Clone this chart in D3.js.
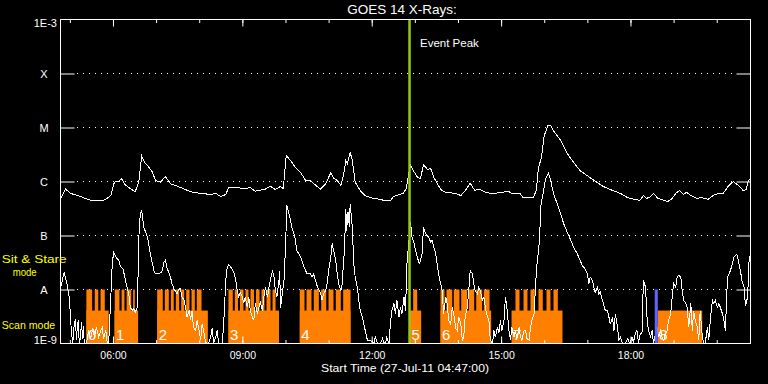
<!DOCTYPE html>
<html>
<head>
<meta charset="utf-8">
<script src="https://cdn.jsdelivr.net/npm/d3@7"></script>
<style>
	body { margin: 0; background: black; }
	svg { display: block; }
	text { font-family: 'Liberation Sans', Arial, sans-serif; }
</style>
</head>
<body>
<svg id="svg"></svg>
<script>

// minutes after 27-Jul-11 04:47:00, log10 flux (W/m^2)
const xrsLong = [
	[0,-6.32],[7,-6.14],[14,-6.22],[28,-6.28],[42,-6.35],[56,-6.36],[63,-6.33],[70,-6.26],[75,-6.01],[81,-6.00],
	[85,-5.95],[90,-6.06],[97,-6.13],[104,-6.19],[109,-6.00],[113,-5.53],[117,-5.65],[122,-5.72],[128,-5.83],[132,-5.98],
	[139,-6.01],[146,-5.91],[153,-6.04],[167,-6.11],[181,-6.19],[195,-6.22],[209,-6.24],[216,-6.22],[223,-6.28],[230,-6.24],
	[234,-6.11],[243,-6.11],[257,-6.13],[264,-6.11],[271,-6.18],[285,-6.14],[292,-6.09],[299,-6.15],[306,-6.09],[310,-6.13],
	[314,-5.52],[320,-5.61],[327,-5.74],[334,-5.83],[341,-5.98],[348,-5.99],[355,-6.07],[362,-6.14],[369,-6.04],[376,-5.84],
	[380,-5.94],[385,-5.98],[390,-6.07],[394,-5.87],[397,-5.61],[399,-5.67],[403,-5.46],[406,-5.61],[410,-6.01],[417,-6.17],
	[424,-6.26],[431,-6.30],[445,-6.33],[452,-6.36],[459,-6.36],[463,-6.28],[470,-6.25],[477,-6.22],[481,-6.13],[484,-5.89],
	[487,-5.70],[491,-5.80],[497,-5.93],[501,-5.94],[505,-5.69],[511,-5.78],[515,-5.76],[520,-5.94],[529,-6.15],[536,-6.20],
	[550,-6.22],[557,-6.26],[563,-6.17],[570,-6.03],[576,-6.16],[584,-6.15],[591,-6.20],[598,-6.22],[612,-6.21],[623,-6.18],
	[629,-6.23],[640,-6.23],[643,-6.29],[658,-6.29],[662,-6.17],[665,-5.74],[669,-5.57],[673,-5.15],[678,-4.97],[682,-4.96],
	[686,-5.06],[696,-5.24],[705,-5.48],[714,-5.65],[723,-5.80],[737,-5.93],[747,-6.02],[755,-6.09],[765,-6.15],[779,-6.22],
	[789,-6.30],[799,-6.33],[806,-6.35],[811,-6.26],[815,-6.31],[819,-6.30],[825,-6.22],[831,-6.31],[838,-6.34],[845,-6.37],
	[850,-6.33],[856,-6.22],[861,-6.17],[867,-6.24],[871,-6.20],[877,-6.26],[885,-6.31],[893,-6.30],[901,-6.33],[908,-6.26],
	[915,-6.22],[922,-6.22],[929,-6.09],[936,-6.00],[943,-6.07],[950,-6.17],[954,-6.15],[957,-5.98],[960,-5.96]
]

const xrsShort = [
	[0,-7.98],[5,-7.68],[9,-7.89],[12,-8.14],[14,-8.51],[15,-8.76],[17,-9.00],[19,-8.67],[21,-8.54],[22,-8.94],
	[24,-8.61],[25,-8.57],[26,-9.00],[28,-8.88],[29,-8.61],[31,-8.91],[32,-8.67],[33,-9.00],[36,-9.00],[39,-8.76],
	[42,-8.91],[45,-8.72],[47,-8.88],[50,-8.70],[53,-8.88],[56,-8.76],[58,-8.70],[60,-8.91],[63,-8.76],[65,-8.98],
	[67,-9.00],[70,-8.14],[72,-7.52],[74,-7.31],[77,-7.40],[81,-7.46],[83,-7.56],[87,-7.62],[89,-7.74],[92,-7.93],
	[95,-8.08],[97,-8.33],[100,-8.39],[102,-8.35],[104,-8.42],[107,-8.33],[109,-7.03],[111,-6.60],[113,-6.54],[116,-6.85],
	[121,-7.03],[125,-7.34],[130,-7.65],[132,-7.71],[137,-7.70],[141,-7.68],[144,-7.49],[146,-7.46],[148,-7.59],[153,-7.77],
	[155,-7.89],[158,-7.99],[162,-8.08],[165,-7.98],[167,-7.99],[169,-8.14],[172,-8.20],[174,-8.33],[176,-8.51],[179,-8.39],
	[181,-8.57],[183,-8.39],[185,-8.70],[188,-8.76],[190,-8.57],[192,-8.70],[195,-8.94],[197,-8.64],[199,-8.76],[202,-8.98],
	[206,-9.00],[209,-8.88],[211,-8.72],[213,-9.00],[216,-8.88],[218,-8.76],[220,-9.00],[225,-9.00],[227,-8.64],[230,-7.83],
	[232,-7.59],[234,-7.54],[237,-7.59],[241,-7.68],[243,-7.77],[246,-8.02],[248,-8.14],[250,-8.05],[253,-8.14],[255,-8.24],
	[257,-8.14],[260,-8.33],[262,-8.14],[264,-8.39],[267,-8.51],[269,-8.57],[271,-8.26],[274,-8.45],[276,-8.33],[278,-8.24],
	[281,-8.39],[283,-8.14],[285,-7.96],[288,-8.14],[290,-7.96],[292,-7.83],[295,-7.65],[297,-7.77],[299,-8.02],[301,-8.14],
	[304,-7.83],[305,-7.65],[306,-8.35],[308,-8.14],[311,-7.83],[313,-7.22],[315,-6.44],[319,-6.66],[322,-6.85],[326,-7.03],
	[329,-7.28],[334,-7.40],[339,-7.59],[343,-7.71],[348,-7.71],[350,-7.77],[352,-7.71],[357,-7.93],[362,-8.08],[364,-8.20],
	[366,-8.08],[369,-8.02],[371,-7.89],[373,-7.65],[376,-7.40],[378,-7.15],[380,-7.28],[383,-7.46],[385,-7.71],[387,-7.89],
	[390,-8.02],[392,-7.89],[393,-7.65],[395,-7.28],[397,-6.51],[398,-6.91],[400,-6.57],[402,-6.85],[403,-6.41],[406,-6.85],
	[408,-7.52],[410,-7.77],[413,-7.96],[415,-8.20],[417,-8.39],[420,-8.51],[422,-8.64],[424,-8.76],[427,-8.94],[431,-8.94],
	[436,-9.00],[438,-8.88],[441,-9.00],[445,-9.00],[448,-8.91],[450,-8.98],[452,-9.00],[454,-8.88],[457,-9.00],[459,-8.64],
	[461,-8.39],[464,-8.26],[466,-8.45],[468,-8.20],[471,-8.51],[473,-8.33],[475,-8.45],[478,-8.14],[480,-8.39],[481,-7.96],
	[482,-7.52],[484,-7.22],[486,-6.91],[487,-6.76],[489,-7.03],[492,-7.15],[494,-7.28],[499,-7.52],[501,-7.46],[503,-7.34],
	[505,-6.85],[508,-6.97],[512,-7.03],[515,-7.12],[517,-7.09],[522,-7.34],[526,-7.71],[531,-8.02],[533,-8.45],[536,-8.14],
	[538,-8.26],[540,-8.57],[543,-8.64],[545,-8.33],[547,-8.45],[550,-8.72],[552,-8.76],[554,-8.51],[557,-8.64],[559,-8.94],
	[561,-8.88],[563,-8.51],[566,-8.33],[568,-8.02],[570,-7.65],[573,-7.71],[575,-7.89],[577,-8.02],[580,-8.08],[582,-7.96],
	[584,-8.02],[587,-8.20],[589,-8.14],[591,-8.33],[594,-8.51],[596,-8.57],[598,-8.94],[601,-9.00],[603,-8.76],[605,-8.88],
	[608,-8.70],[610,-8.81],[612,-8.57],[614,-8.76],[617,-8.57],[619,-8.14],[621,-8.33],[624,-8.76],[626,-8.94],[628,-8.70],
	[631,-8.88],[633,-8.76],[635,-8.91],[638,-8.70],[640,-8.88],[642,-8.94],[645,-8.76],[647,-8.76],[649,-8.91],[652,-8.94],
	[654,-8.70],[656,-8.57],[659,-8.45],[661,-7.89],[663,-7.52],[666,-7.15],[667,-6.91],[668,-6.48],[672,-6.17],[675,-5.95],
	[679,-5.84],[682,-5.98],[686,-6.23],[691,-6.41],[696,-6.60],[700,-6.78],[705,-6.94],[710,-7.09],[714,-7.22],[719,-7.34],
	[723,-7.46],[726,-7.56],[730,-7.62],[733,-7.71],[735,-7.89],[737,-7.77],[740,-7.83],[742,-7.96],[744,-8.05],[747,-7.96],
	[749,-8.08],[751,-8.05],[754,-8.20],[756,-8.30],[758,-8.39],[761,-8.39],[763,-8.51],[765,-8.64],[768,-8.51],[770,-8.76],
	[772,-8.45],[775,-8.70],[777,-8.94],[779,-8.88],[782,-9.00],[786,-9.00],[789,-8.91],[792,-9.00],[795,-8.88],[797,-8.98],
	[800,-8.81],[802,-8.76],[804,-8.98],[807,-8.81],[809,-8.81],[811,-7.83],[814,-7.96],[816,-8.51],[818,-8.76],[821,-8.88],
	[823,-8.76],[825,-9.00],[828,-8.81],[830,-8.70],[832,-8.88],[835,-8.76],[837,-8.88],[839,-8.94],[842,-8.81],[844,-8.76],
	[846,-8.57],[849,-8.45],[851,-8.14],[853,-7.89],[856,-7.96],[858,-7.77],[860,-7.74],[863,-7.77],[865,-8.02],[867,-8.20],
	[870,-8.26],[872,-8.33],[874,-8.70],[877,-8.26],[879,-8.76],[881,-8.39],[883,-8.57],[886,-8.70],[888,-8.94],[890,-8.39],
	[893,-8.88],[895,-9.00],[897,-9.00],[900,-8.70],[902,-8.94],[904,-8.57],[907,-8.20],[909,-8.26],[911,-8.20],[914,-8.33],
	[916,-8.26],[918,-8.33],[921,-8.45],[923,-8.57],[925,-8.76],[928,-7.77],[930,-7.71],[932,-7.65],[935,-7.52],[937,-7.40],
	[941,-7.35],[943,-7.46],[946,-7.65],[948,-7.83],[951,-7.96],[953,-8.30],[956,-8.14],[958,-7.46],[960,-7.34]
]

// observing blocks (scan mode), minutes after start
const blockNames = ['0', '1', '2', '3', '4', '5', '6', '7', '8']
const scanBlocks = [[36,67],[75,108],[134.5,205],[233.7,304],[332.9,403.5],[486.3,501.8],[528.7,599.2],[627.5,698.4],[831,892.8]]
// sit & stare pointings
const stareBars = [
	[36,44],[47.7,52.5],[55.7,61.6],
	[75.5,82],[85,89],[92,98.4],[101,103.4],
	[134.5,142.3],[145.1,150.7],[153.5,157.6],[160.4,165.1],[167.9,172.1],[174.9,179.5],[182.3,186.9],[189.6,196.2],
	[233.7,239.7],[242.5,247],[249.7,254.6],[257.4,261.6],[264.3,269.2],[272,276.9],[279.7,283.8],[286.6,292.2],[295,299.2],
	[332.9,339.5],[342.3,349.2],[352.4,359.4],[362.7,369.7],[372.9,379.8],[383,390],[393.3,403.5],
	[490.7,496.3],
	[528.7,534.3],[537,545],[547.2,555.1],[557.5,565.8],[568.1,575.6],[578.4,586.7],[588.9,596.9],
	[633,638.6],[644.2,649.7],[653.9,659.9],[665,671],[676.2,681.7],[685.9,691.9]
]
const otherBar = [826.8, 831]
const eventPeak = 485.6

const levelNames = ['1E-9', 'A', 'B', 'C', 'M', 'X', '1E-3']
const levelValues = [-9, -8, -7, -6, -5, -4, -3]

const doIt = () => {

	let w = 768
	let h = 384
	let start = Date.UTC(2011, 6, 27, 4, 47)
	let t = m => new Date(start + m * 60000)

	let svg = d3.select('#svg')
	.attr('width', w).attr('height', h)
	.style('background', 'black')

	let x = d3.scaleTime()
	.domain([t(0), t(960)])
	.range([60.5, 750.5])

	let y = d3.scaleLinear()
	.domain([-9, -3])
	.range([343.5, 19.5])

	const scanTop = -8.39
	const stareTop = -8
	const orange = '#ff8000'

	// dotted level lines
	svg.append('g')
	.selectAll('line')
	.data(levelValues.slice(1, -1))
	.enter().append('line')
	.attr('x1', 77).attr('x2', 736)
	.attr('y1', d => y(d)).attr('y2', d => y(d))
	.attr('stroke', 'white')
	.attr('stroke-dasharray', '1,5')

	// mode blocks
	svg.append('g')
	.selectAll('rect')
	.data(scanBlocks)
	.enter().append('rect')
	.attr('x', d => x(t(d[0])))
	.attr('width', d => x(t(d[1])) - x(t(d[0])))
	.attr('y', y(scanTop))
	.attr('height', y(-9) - y(scanTop))
	.attr('fill', orange)

	svg.append('g')
	.selectAll('rect')
	.data(stareBars)
	.enter().append('rect')
	.attr('x', d => x(t(d[0])))
	.attr('width', d => x(t(d[1])) - x(t(d[0])))
	.attr('y', y(stareTop))
	.attr('height', y(-9) - y(stareTop))
	.attr('fill', orange)

	svg.append('g')
	.selectAll('text')
	.data(scanBlocks)
	.enter().append('text')
	.attr('x', d => x(t(d[0])) + 1.5)
	.attr('y', 340)
	.attr('fill', 'white')
	.style('font-size', '15px')
	.text((d, i) => blockNames[i])

	// curves
	let lineMkr = d3.line()
	.x(d => x(t(d[0])))
	.y(d => y(d[1]))

	svg.selectAll('path.xrs')
	.data([xrsLong, xrsShort])
	.enter().append('path')
	.attr('class', 'xrs')
	.attr('d', lineMkr)
	.attr('fill', 'none')
	.attr('stroke', 'white')
	.attr('stroke-width', 1)
	.attr('shape-rendering', 'crispEdges')

	svg.append('rect')
	.attr('x', x(t(otherBar[0])))
	.attr('width', x(t(otherBar[1])) - x(t(otherBar[0])))
	.attr('y', y(stareTop))
	.attr('height', y(-9) - y(stareTop))
	.attr('fill', '#6464ff')

	// event peak
	svg.append('line')
	.attr('x1', x(t(eventPeak))).attr('x2', x(t(eventPeak)))
	.attr('y1', y(-3)).attr('y2', y(-9))
	.attr('stroke', '#96c814')
	.attr('stroke-width', 2.5)

	svg.append('text')
	.attr('x', 420).attr('y', 46.5)
	.attr('fill', 'white')
	.style('font-size', '11.5px')
	.text('Event Peak')

	// frame
	svg.append('rect')
	.attr('x', x.range()[0]).attr('y', y.range()[1])
	.attr('width', x.range()[1] - x.range()[0])
	.attr('height', y.range()[0] - y.range()[1])
	.attr('fill', 'none')
	.attr('stroke', 'white')

	// time ticks, top and bottom
	const hourTicks = (g, axis, every, size) => g.call(axis(x).ticks(d3.utcHour.every(every)).tickSize(size).tickFormat(''))
	.call(g => g.select('.domain').remove())
	.call(g => g.selectAll('line').attr('stroke', 'white'))

	svg.append('g').attr('transform', `translate(0,${y(-3)})`).call(hourTicks, d3.axisBottom, 1, 3.5)
	svg.append('g').attr('transform', `translate(0,${y(-3)})`).call(hourTicks, d3.axisBottom, 3, 7)
	svg.append('g').attr('transform', `translate(0,${y(-9)})`).call(hourTicks, d3.axisTop, 1, 3.5)
	svg.append('g').attr('transform', `translate(0,${y(-9)})`).call(hourTicks, d3.axisTop, 3, 7)

	svg.append('g')
	.attr('transform', `translate(0,${y(-9)})`)
	.call(d3.axisBottom(x).ticks(d3.utcHour.every(3)).tickSize(0).tickPadding(8).tickFormat(d3.utcFormat('%H:%M')))
	.call(g => g.select('.domain').remove())
	.call(g => g.selectAll('text').attr('fill', 'white').style('font-size', '10.5px').style('font-family', null))

	// level ticks, left and right
	const inner = levelValues.slice(1, -1)
	svg.append('g').attr('transform', `translate(${x.range()[0]},0)`)
	.call(d3.axisRight(y).tickValues(inner).tickSize(14).tickFormat(''))
	.call(g => g.select('.domain').remove())
	.call(g => g.selectAll('line').attr('stroke', 'white'))

	svg.append('g').attr('transform', `translate(${x.range()[1]},0)`)
	.call(d3.axisLeft(y).tickValues(inner).tickSize(14).tickFormat(''))
	.call(g => g.select('.domain').remove())
	.call(g => g.selectAll('line').attr('stroke', 'white'))

	svg.append('g').attr('transform', `translate(${x.range()[0]},0)`)
	.call(d3.axisLeft(y).tickValues(levelValues).tickSize(0).tickPadding(3.5).tickFormat((d, i) => levelNames[i]))
	.call(g => g.select('.domain').remove())
	.call(g => g.selectAll('text')
		.attr('fill', 'white')
		.style('font-size', '11px')
		.style('font-family', null)
		.each(function (d) {
			let s = d3.select(this)
			if (d === -3) s.attr('dy', '0.68em')
			else if (d === -9) s.attr('dy', '0')
			else s.attr('text-anchor', 'middle').attr('x', -16.5)
		}))

	// titles
	svg.append('text')
	.attr('x', 402).attr('y', 14)
	.attr('text-anchor', 'middle')
	.attr('fill', 'white')
	.style('font-size', '13.5px')
	.text('GOES 14 X-Rays:')

	svg.append('text')
	.attr('x', 405).attr('y', 371.5)
	.attr('text-anchor', 'middle')
	.attr('fill', 'white')
	.attr('textLength', 168).attr('lengthAdjust', 'spacingAndGlyphs')
	.style('font-size', '11px')
	.text('Start Time (27-Jul-11 04:47:00)')

	// mode legend
	let legend = [['Sit & Stare', 1.7, 263, 65], ['mode', 12.7, 275.5, 24], ['Scan mode', 1.7, 328.5, 53.5]]
	svg.append('g')
	.selectAll('text')
	.data(legend)
	.enter().append('text')
	.attr('x', d => d[1]).attr('y', d => d[2])
	.attr('textLength', d => d[3]).attr('lengthAdjust', 'spacingAndGlyphs')
	.attr('fill', '#ffff00')
	.style('font-size', '10.5px')
	.text(d => d[0])

}

doIt()
</script>
</body>
</html>
